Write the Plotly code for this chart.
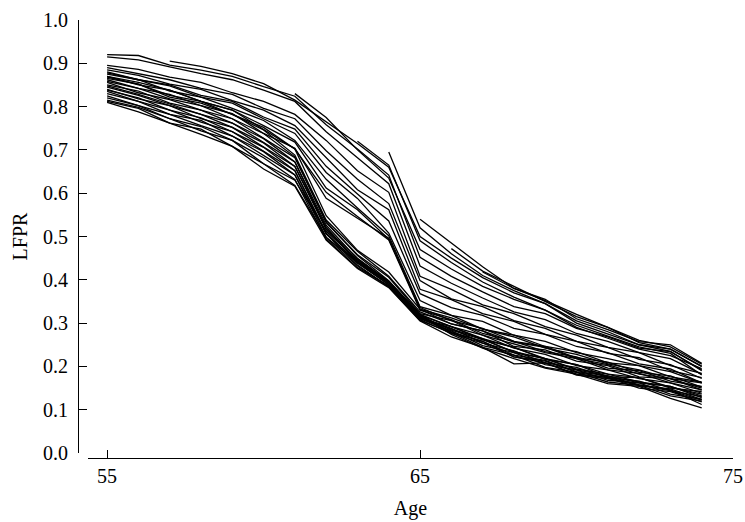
import plotly.graph_objects as go

ages = list(range(55, 75))
N = None

# Lower bundle (observed from age 55)
low_01 = [0.870, 0.850, 0.838, 0.812, 0.792, 0.748, 0.702, 0.548, 0.468, 0.418, 0.332, 0.312, 0.286, 0.268, 0.242, 0.228, 0.206, 0.192, 0.172, 0.162]
low_02 = [0.865, 0.852, 0.822, 0.808, 0.782, 0.746, 0.688, 0.538, 0.466, 0.408, 0.326, 0.298, 0.282, 0.256, 0.244, 0.218, 0.204, 0.182, 0.172, 0.150]
low_03 = [0.858, 0.842, 0.818, 0.802, 0.772, 0.738, 0.684, 0.532, 0.458, 0.406, 0.322, 0.306, 0.272, 0.252, 0.232, 0.218, 0.192, 0.184, 0.162, 0.146]
low_04 = [0.856, 0.832, 0.816, 0.792, 0.772, 0.728, 0.682, 0.534, 0.456, 0.398, 0.320, 0.292, 0.272, 0.242, 0.228, 0.202, 0.192, 0.172, 0.162, 0.138]
low_05 = [0.850, 0.836, 0.808, 0.792, 0.762, 0.726, 0.672, 0.526, 0.448, 0.396, 0.318, 0.292, 0.264, 0.244, 0.218, 0.204, 0.182, 0.174, 0.152, 0.136]
low_06 = [0.848, 0.828, 0.806, 0.782, 0.762, 0.718, 0.672, 0.518, 0.450, 0.396, 0.314, 0.286, 0.264, 0.232, 0.218, 0.194, 0.182, 0.164, 0.154, 0.128]
low_07 = [0.845, 0.826, 0.802, 0.782, 0.752, 0.716, 0.662, 0.516, 0.444, 0.394, 0.313, 0.288, 0.254, 0.236, 0.208, 0.198, 0.174, 0.166, 0.144, 0.130]
low_08 = [0.840, 0.818, 0.802, 0.772, 0.752, 0.708, 0.662, 0.522, 0.440, 0.388, 0.312, 0.280, 0.258, 0.226, 0.214, 0.188, 0.178, 0.156, 0.148, 0.124]
low_09 = [0.838, 0.820, 0.792, 0.774, 0.742, 0.706, 0.652, 0.508, 0.438, 0.390, 0.310, 0.282, 0.248, 0.232, 0.204, 0.192, 0.168, 0.162, 0.136, 0.124]
low_10 = [0.835, 0.812, 0.792, 0.764, 0.742, 0.698, 0.652, 0.506, 0.434, 0.384, 0.308, 0.276, 0.254, 0.222, 0.208, 0.182, 0.174, 0.150, 0.142, 0.118]
low_11 = [0.830, 0.812, 0.782, 0.768, 0.732, 0.696, 0.642, 0.498, 0.432, 0.384, 0.306, 0.278, 0.244, 0.226, 0.198, 0.186, 0.164, 0.156, 0.132, 0.120]
low_12 = [0.825, 0.802, 0.782, 0.756, 0.732, 0.688, 0.642, 0.506, 0.442, 0.394, 0.316, 0.284, 0.262, 0.234, 0.218, 0.192, 0.178, 0.162, 0.154, 0.132]
low_13 = [0.820, 0.802, 0.772, 0.754, 0.722, 0.682, 0.632, 0.494, 0.428, 0.386, 0.310, 0.292, 0.262, 0.244, 0.216, 0.204, 0.176, 0.174, 0.150, 0.142]
low_14 = [0.815, 0.798, 0.772, 0.744, 0.722, 0.668, 0.630, 0.512, 0.446, 0.396, 0.320, 0.278, 0.258, 0.222, 0.212, 0.186, 0.174, 0.158, 0.146, 0.112]
low_15 = [0.812, 0.796, 0.762, 0.748, 0.708, 0.668, 0.618, 0.498, 0.440, 0.392, 0.318, 0.274, 0.242, 0.218, 0.196, 0.182, 0.160, 0.154, 0.126, 0.104]
low_16 = [0.810, 0.788, 0.762, 0.736, 0.708, 0.656, 0.616, 0.492, 0.426, 0.382, 0.305, 0.268, 0.244, 0.206, 0.208, 0.180, 0.172, 0.156, 0.144, 0.122]

# Middle group (observed from age 55)
mid_01 = [0.880, 0.862, 0.848, 0.822, 0.808, 0.772, 0.738, 0.648, 0.588, 0.508, 0.352, 0.318, 0.304, 0.272, 0.258, 0.232, 0.218, 0.202, 0.188, 0.162]
mid_02 = [0.875, 0.862, 0.836, 0.822, 0.796, 0.768, 0.722, 0.632, 0.566, 0.502, 0.338, 0.318, 0.286, 0.272, 0.246, 0.234, 0.208, 0.202, 0.176, 0.164]
mid_03 = [0.870, 0.856, 0.838, 0.812, 0.792, 0.756, 0.718, 0.612, 0.562, 0.494, 0.336, 0.306, 0.288, 0.258, 0.246, 0.220, 0.210, 0.186, 0.178, 0.152]
mid_04 = [0.868, 0.852, 0.826, 0.812, 0.782, 0.752, 0.702, 0.602, 0.546, 0.492, 0.330, 0.308, 0.276, 0.258, 0.234, 0.222, 0.196, 0.190, 0.166, 0.154]
mid_05 = [0.862, 0.842, 0.828, 0.802, 0.784, 0.738, 0.704, 0.588, 0.542, 0.496, 0.332, 0.298, 0.282, 0.246, 0.238, 0.212, 0.202, 0.176, 0.172, 0.146]

# Upper group (observed from age 55)
up_01 = [0.920, 0.918, 0.896, 0.884, 0.870, 0.846, 0.824, 0.758, 0.702, 0.642, 0.452, 0.408, 0.372, 0.338, 0.322, 0.288, 0.268, 0.242, 0.234, 0.192]
up_02 = [0.915, 0.908, 0.892, 0.876, 0.862, 0.838, 0.812, 0.742, 0.682, 0.622, 0.432, 0.392, 0.358, 0.326, 0.308, 0.276, 0.258, 0.232, 0.218, 0.182]
up_03 = [0.895, 0.886, 0.868, 0.856, 0.832, 0.812, 0.782, 0.722, 0.652, 0.602, 0.408, 0.378, 0.342, 0.322, 0.292, 0.272, 0.244, 0.232, 0.202, 0.184]
up_04 = [0.890, 0.876, 0.862, 0.842, 0.828, 0.796, 0.772, 0.698, 0.632, 0.576, 0.398, 0.356, 0.338, 0.306, 0.288, 0.258, 0.244, 0.216, 0.204, 0.172]
up_05 = [0.885, 0.872, 0.852, 0.840, 0.814, 0.792, 0.756, 0.682, 0.608, 0.562, 0.378, 0.354, 0.322, 0.304, 0.274, 0.258, 0.230, 0.220, 0.190, 0.174]
up_06 = [0.878, 0.862, 0.850, 0.826, 0.812, 0.776, 0.748, 0.662, 0.598, 0.536, 0.368, 0.336, 0.318, 0.288, 0.274, 0.246, 0.232, 0.206, 0.194, 0.162]

# Older cohorts, first observed at later ages
old_57 = [N, N, 0.905, 0.893, 0.876, 0.853, 0.815, 0.765, 0.715, 0.660, 0.500, 0.450, 0.405, 0.370, 0.345, 0.300, 0.275, 0.250, 0.235, 0.190]
old_61 = [N, N, N, N, N, N, 0.830, 0.775, 0.700, 0.635, 0.470, 0.425, 0.385, 0.355, 0.330, 0.290, 0.265, 0.240, 0.225, 0.195]
old_63 = [N, N, N, N, N, N, N, N, 0.720, 0.665, 0.490, 0.440, 0.395, 0.360, 0.330, 0.295, 0.270, 0.245, 0.230, 0.180]
old_64 = [N, N, N, N, N, N, N, N, N, 0.695, 0.520, 0.460, 0.410, 0.375, 0.345, 0.305, 0.280, 0.250, 0.240, 0.200]
old_65 = [N, N, N, N, N, N, N, N, N, N, 0.540, 0.485, 0.430, 0.380, 0.355, 0.310, 0.285, 0.257, 0.250, 0.207]
old_66 = [N, N, N, N, N, N, N, N, N, N, N, 0.472, 0.420, 0.385, 0.350, 0.315, 0.290, 0.255, 0.240, 0.200]
old_67 = [N, N, N, N, N, N, N, N, N, N, N, N, 0.418, 0.380, 0.352, 0.320, 0.290, 0.260, 0.245, 0.205]

cohorts = [low_01, low_02, low_03, low_04, low_05, low_06, low_07, low_08,
           low_09, low_10, low_11, low_12, low_13, low_14, low_15, low_16,
           mid_01, mid_02, mid_03, mid_04, mid_05,
           up_01, up_02, up_03, up_04, up_05, up_06,
           old_57, old_61, old_63, old_64, old_65, old_66, old_67]

x_ticks = [55, 65, 75]
y_ticks = [0.0, 0.1, 0.2, 0.3, 0.4, 0.5, 0.6, 0.7, 0.8, 0.9, 1.0]

fig = go.Figure()
for vals in cohorts:
    fig.add_trace(go.Scatter(x=ages, y=vals, mode="lines",
                             line=dict(color="black", width=1.3),
                             connectgaps=False, showlegend=False,
                             hoverinfo="skip"))

font = dict(family="Liberation Serif", size=20, color="black")

fig.update_layout(
    width=745, height=522,
    margin=dict(l=78, r=12, t=20, b=64, autoexpand=False),
    paper_bgcolor="white", plot_bgcolor="white",
    font=font,
    showlegend=False,
    xaxis=dict(
        range=[54.39, 75], domain=[0.0153, 1],
        anchor="free", position=0, automargin=False,
        tickvals=x_ticks, ticktext=[str(v) for v in x_ticks],
        tickfont=font,
        ticks="inside", ticklen=8, tickwidth=1, tickcolor="black",
        showline=True, linecolor="black", linewidth=1,
        showgrid=False, zeroline=False,
        title=dict(text="Age", standoff=14, font=font),
        ticklabelstandoff=0,
    ),
    yaxis=dict(
        range=[0, 1], domain=[0.0114, 1],
        anchor="free", position=0, automargin=False,
        tickvals=y_ticks, tickformat=".1f",
        tickfont=font,
        ticks="inside", ticklen=8, tickwidth=1, tickcolor="black",
        showline=True, linecolor="black", linewidth=1,
        showgrid=False, zeroline=False,
        title=dict(text="LFPR", standoff=8, font=font),
        ticklabelstandoff=6,
    ),
)

# remove the browser's default 8px page margin so the figure sits at the top-left
fig.write_html("out.html", config={"displayModeBar": False},
               post_script="document.body.style.margin='0';")
